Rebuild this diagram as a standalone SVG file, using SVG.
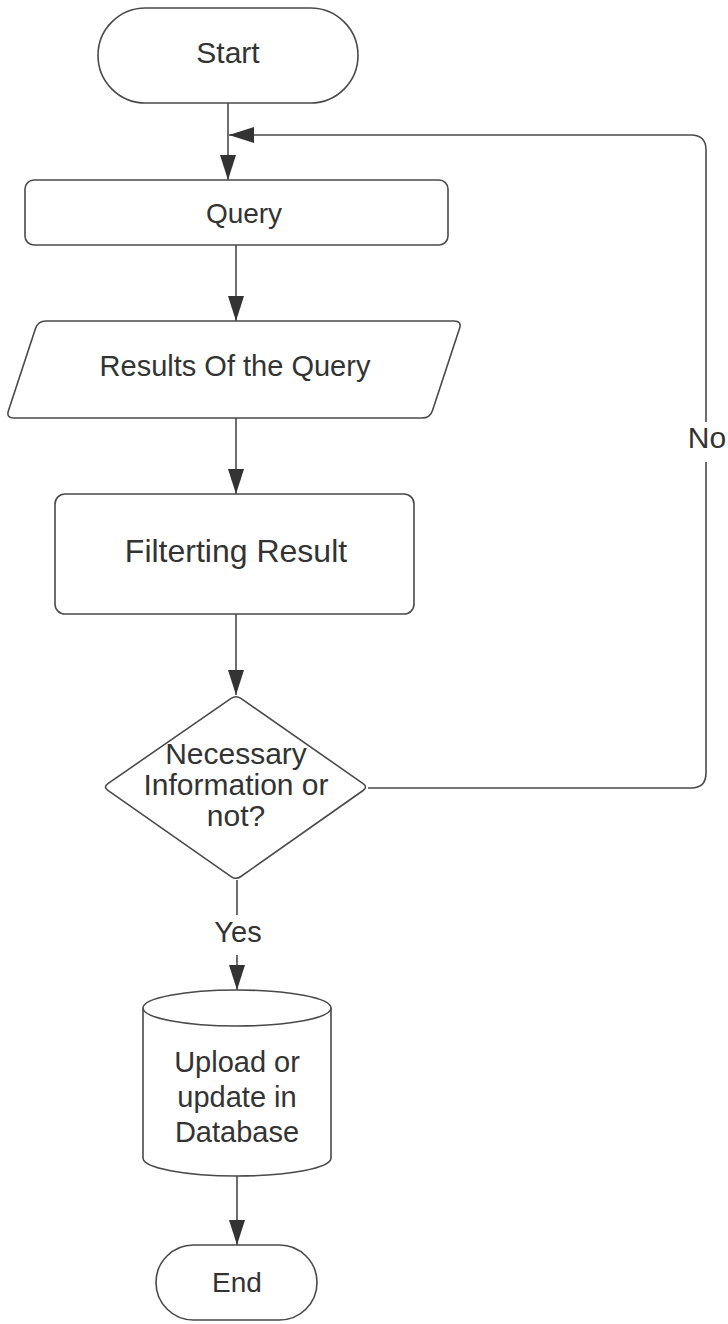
<svg xmlns="http://www.w3.org/2000/svg" width="728" height="1324" viewBox="0 0 728 1324">
  <style>
    .shape { fill: #ffffff; stroke: #4a4a4a; stroke-width: 1.6; }
    .edge { fill: none; stroke: #4a4a4a; stroke-width: 1.6; }
    .label { font-family: "Liberation Sans", Arial, sans-serif; fill: #333333; text-anchor: middle; }
  </style>
  <defs>
    <marker id="arrow" markerUnits="userSpaceOnUse" markerWidth="26" markerHeight="18" refX="25" refY="8.5" orient="auto">
      <path d="M0,0.5 L25,8.5 L0,16.5 Z" fill="#333333"/>
    </marker>
  </defs>

  <rect width="728" height="1324" fill="#ffffff"/>

  <!-- connectors -->
  <g id="connectors">
    <path class="edge" d="M228,103 V180" marker-end="url(#arrow)"/>
    <path class="edge" d="M236,245 V321" marker-end="url(#arrow)"/>
    <path class="edge" d="M236,418 V494" marker-end="url(#arrow)"/>
    <path class="edge" d="M236,614 V695" marker-end="url(#arrow)"/>
    <path class="edge" d="M237,880 V915"/>
    <path class="edge" d="M237,955 V990" marker-end="url(#arrow)"/>
    <path class="edge" d="M237,1176 V1245" marker-end="url(#arrow)"/>
    <path class="edge" d="M368,788 H691 Q706,788 706,773 V150 Q706,135 691,135 H229" marker-end="url(#arrow)"/>
    <rect x="684" y="422" width="44" height="40" fill="#ffffff"/>
    <text class="label" x="707" y="448" font-size="30">No</text>
    <text class="label" x="238" y="942" font-size="29">Yes</text>
  </g>

  <g id="start">
    <rect class="shape" x="98" y="8" width="260" height="95" rx="47.5" ry="47.5"/>
    <text class="label" x="228" y="63" font-size="30">Start</text>
  </g>

  <g id="query">
    <rect class="shape" x="25" y="180" width="423" height="65" rx="9" ry="9"/>
    <text class="label" x="244" y="223" font-size="28">Query</text>
  </g>

  <g id="results">
    <path class="shape" d="M46,321 H454 Q462,321 459.5,328.6 L432.5,410.4 Q430,418 422,418 H14 Q6,418 8.5,410.4 L35.5,328.6 Q38,321 46,321 Z"/>
    <text class="label" x="235" y="376" font-size="29">Results Of the Query</text>
  </g>

  <g id="filtering">
    <rect class="shape" x="55" y="494" width="359" height="120" rx="10" ry="10"/>
    <text class="label" x="236" y="562" font-size="32">Filterting Result</text>
  </g>

  <g id="decision">
    <path class="shape" d="M240.9,698.4 L363.1,783.6 Q368,787 363.1,790.5 L240.9,876.5 Q236,880 231.1,876.6 L107.9,790.4 Q103,787 107.9,783.6 L231.1,698.4 Q236,695 240.9,698.4 Z"/>
    <text class="label" x="236" y="764" font-size="30">Necessary</text>
    <text class="label" x="236" y="795" font-size="30">Information or</text>
    <text class="label" x="236" y="826" font-size="30">not?</text>
  </g>

  <g id="database">
    <path class="shape" d="M143,1008 V1158 A94,18 0 0 0 331,1158 V1008"/>
    <ellipse class="shape" cx="237" cy="1008" rx="94" ry="18"/>
    <text class="label" x="237" y="1072" font-size="29">Upload or</text>
    <text class="label" x="237" y="1107" font-size="29">update in</text>
    <text class="label" x="237" y="1142" font-size="29">Database</text>
  </g>

  <g id="end">
    <rect class="shape" x="156" y="1245" width="161" height="75" rx="37.5" ry="37.5"/>
    <text class="label" x="237" y="1292" font-size="28">End</text>
  </g>
</svg>
